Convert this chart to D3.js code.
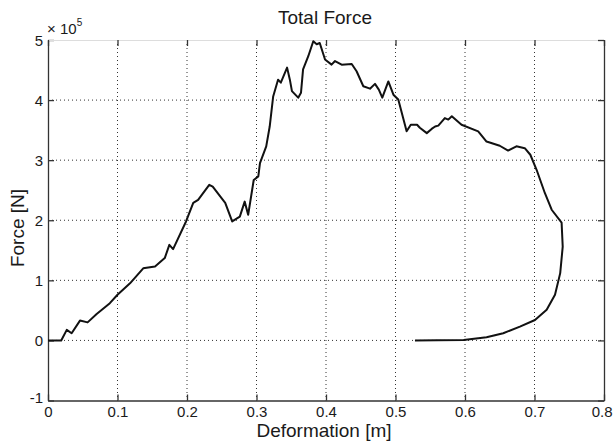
<!DOCTYPE html>
<html>
<head>
<meta charset="utf-8">
<script src="https://cdn.jsdelivr.net/npm/d3@7"></script>
<style>
  html, body { margin: 0; padding: 0; background: #fff; }
  svg { display: block; font-family: "Liberation Sans", Arial, Helvetica, sans-serif; }
</style>
</head>
<body>
<svg id="chart" width="613" height="447"></svg>
<script>
// Deformation [m] along the force-deformation path
const deformation = [
  0.000, 0.019, 0.027, 0.034, 0.046, 0.057, 0.070, 0.089, 0.100, 0.118,
  0.137, 0.154, 0.168, 0.1746, 0.180, 0.1986, 0.209, 0.216, 0.232, 0.237,
  0.2475, 0.255, 0.265, 0.276, 0.283, 0.288, 0.296, 0.3026, 0.305, 0.314,
  0.319, 0.324, 0.331, 0.335, 0.344, 0.348, 0.351, 0.360, 0.364, 0.367,
  0.3745, 0.3817, 0.3866, 0.391, 0.3986, 0.408, 0.413, 0.4225, 0.437, 0.444,
  0.4537, 0.4633, 0.4705, 0.476, 0.481, 0.4897, 0.497, 0.504, 0.511, 0.516,
  0.522, 0.531, 0.535, 0.545, 0.552, 0.557, 0.5616, 0.571, 0.576, 0.581,
  0.595, 0.619, 0.631, 0.650, 0.662, 0.674, 0.686, 0.694, 0.703, 0.715,
  0.7247, 0.739, 0.7406, 0.737, 0.7295, 0.7175, 0.7007, 0.679, 0.655, 0.631,
  0.607, 0.598, 0.560, 0.528
];
// Total force, in units of 1e5 N
const force = [
  0.00, 0.00, 0.175, 0.12, 0.33, 0.30, 0.44, 0.62, 0.76, 0.95,
  1.20, 1.23, 1.37, 1.59, 1.52, 1.98, 2.29, 2.34, 2.59, 2.56,
  2.40, 2.29, 1.98, 2.06, 2.31, 2.09, 2.67, 2.73, 2.95, 3.23,
  3.56, 4.06, 4.34, 4.29, 4.54, 4.34, 4.15, 4.04, 4.12, 4.51,
  4.73, 4.98, 4.93, 4.95, 4.675, 4.59, 4.65, 4.59, 4.60, 4.48,
  4.23, 4.19, 4.27, 4.175, 4.04, 4.31, 4.09, 4.01, 3.70, 3.48,
  3.59, 3.59, 3.54, 3.45, 3.52, 3.56, 3.575, 3.70, 3.675, 3.73,
  3.59, 3.48, 3.31, 3.24, 3.16, 3.23, 3.20, 3.09, 2.84, 2.45,
  2.175, 1.96, 1.56, 1.12, 0.76, 0.51, 0.34, 0.23, 0.12, 0.053,
  0.02, 0.008, 0.004, 0.00
];
const xTicks = [0, 0.1, 0.2, 0.3, 0.4, 0.5, 0.6, 0.7, 0.8];
const xTickLabels = ["0", "0.1", "0.2", "0.3", "0.4", "0.5", "0.6", "0.7", "0.8"];
const yTicks = [-1, 0, 1, 2, 3, 4, 5];
const yTickLabels = ["-1", "0", "1", "2", "3", "4", "5"];

const svg = d3.select("#chart");
const W = 613;
const plotLeft = 48, plotRight = 604, plotTop = 40, plotBottom = 400.5;
const ink = "#1a1a1a";

const x = d3.scaleLinear().domain([0, 0.8]).range([plotLeft, plotRight]);
const y = d3.scaleLinear().domain([-1, 5]).range([plotBottom, plotTop]);

// dotted grid
const grid = svg.append("g").attr("stroke", "#333").attr("stroke-width", 1)
  .attr("stroke-dasharray", "1,3");
grid.selectAll("line.gx").data(xTicks.slice(1, -1)).join("line")
  .attr("x1", d => x(d)).attr("x2", d => x(d)).attr("y1", plotTop).attr("y2", plotBottom);
grid.selectAll("line.gy").data(yTicks.slice(1, -1)).join("line")
  .attr("y1", d => y(d)).attr("y2", d => y(d)).attr("x1", plotLeft).attr("x2", plotRight);

// axes with inward ticks
const fmtX = (d, i) => xTickLabels[i];
const fmtY = (d, i) => yTickLabels[i];
const axB = svg.append("g").attr("transform", `translate(0,${plotBottom})`)
  .call(d3.axisBottom(x).tickValues(xTicks).tickFormat(fmtX).tickSizeInner(-6).tickSizeOuter(0));
const axL = svg.append("g").attr("transform", `translate(${plotLeft},0)`)
  .call(d3.axisLeft(y).tickValues(yTicks).tickFormat(fmtY).tickSizeInner(-6).tickSizeOuter(0).tickPadding(5));
const axT = svg.append("g").attr("transform", `translate(0,${plotTop})`)
  .call(d3.axisTop(x).tickValues(xTicks).tickFormat("").tickSizeInner(-6).tickSizeOuter(0));
const axR = svg.append("g").attr("transform", `translate(${plotRight},0)`)
  .call(d3.axisRight(y).tickValues(yTicks).tickFormat("").tickSizeInner(-6).tickSizeOuter(0));

[axB, axL, axR].forEach(a => a.selectAll("path, line").attr("stroke", "#333").attr("stroke-width", 1.3));
axT.selectAll("path").attr("stroke", "#ddd");
axT.selectAll("line").attr("stroke", "#333").attr("stroke-width", 1.3);
[axB, axL].forEach(a => a.selectAll("text").attr("font-size", 15).attr("fill", ink)
  .attr("font-family", "Liberation Sans, Arial, sans-serif"));
axB.selectAll("text").attr("y", 16.5).attr("dy", 0);
// keep the last label inside the canvas
axB.selectAll("text").filter(d => d === 0.8)
  .attr("text-anchor", "end").attr("x", W - 1 - x(0.8));
axL.selectAll("text").attr("dy", "0.36em");
// MATLAB-style nudge of the bottom-left label
axL.selectAll("text").filter(d => d === -1).attr("dy", "0.1em");

// exponent marker
const ex = svg.append("text").attr("x", 47).attr("y", 34).attr("font-size", 15).attr("fill", ink);
ex.append("tspan").text("\u00d7 10");
ex.append("tspan").attr("font-size", 10).attr("dy", -8).text("5");

// curve
const pts = deformation.map((d, i) => [d, force[i]]);
svg.append("path").datum(pts)
  .attr("fill", "none").attr("stroke", "#111").attr("stroke-width", 2)
  .attr("stroke-linejoin", "round")
  .attr("d", d3.line().x(d => x(d[0])).y(d => y(d[1])));

// titles
svg.append("text").attr("x", 325).attr("y", 24).attr("text-anchor", "middle")
  .attr("font-size", 19).attr("fill", ink).text("Total Force");
svg.append("text").attr("x", 324).attr("y", 437).attr("text-anchor", "middle")
  .attr("font-size", 19).attr("fill", ink).text("Deformation [m]");
svg.append("text").attr("transform", "translate(24,228) rotate(-90)").attr("text-anchor", "middle")
  .attr("font-size", 19).attr("fill", ink).text("Force [N]");
</script>
</body>
</html>
